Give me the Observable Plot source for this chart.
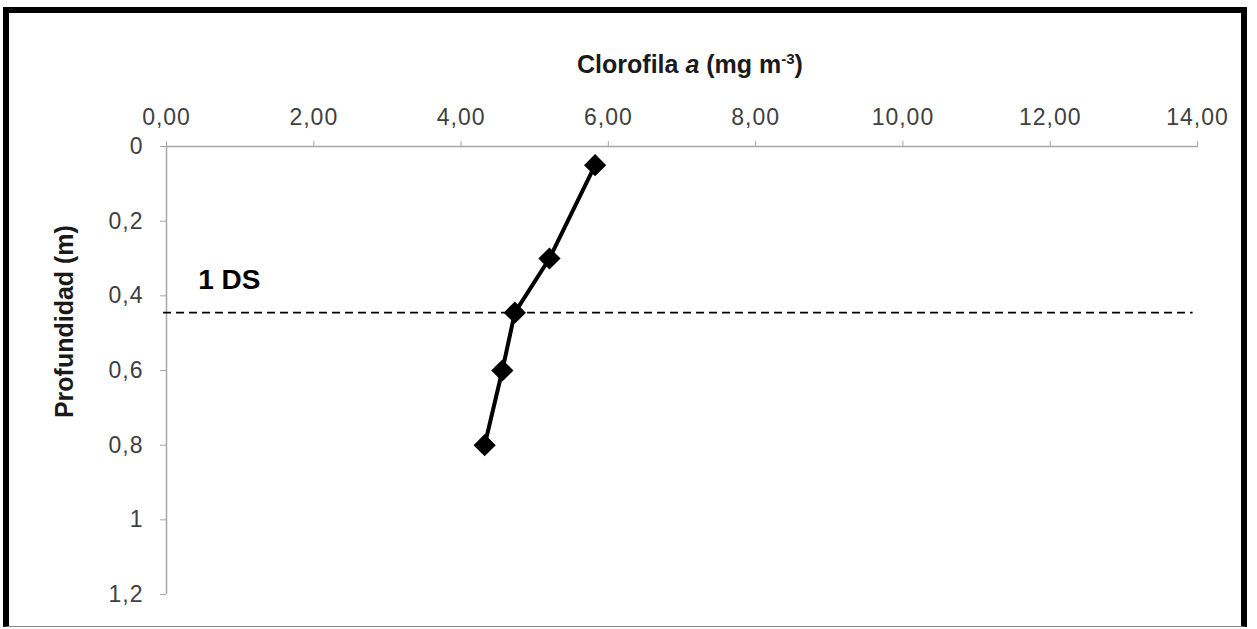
<!DOCTYPE html>
<html>
<head>
<meta charset="utf-8">
<script src="https://cdn.jsdelivr.net/npm/d3@7"></script>
<script src="https://cdn.jsdelivr.net/npm/@observablehq/plot@0.6"></script>
<style>
  html, body { margin: 0; padding: 0; background: #fff; overflow: hidden; }
  #wrap { position: relative; width: 1257px; height: 629px; font-family: "Liberation Sans", Arial, sans-serif; }
  #frame { position: absolute; left: 3px; top: 7px; width: 1244px; height: 620px; border-left: 6px solid #000; border-top: 6px solid #000; border-right: 6px solid #000; border-bottom: 1px solid #888; box-sizing: border-box; pointer-events: none; }
  #xtitle { position: absolute; left: 0; width: 1380px; top: 50px; text-align: center; font-size: 25px; line-height: 29px; font-weight: bold; color: #1a1a1a; }
  #xtitle sup { font-size: 15px; line-height: 0; }
  #chart { position: absolute; left: 0; top: 0; }
</style>
</head>
<body>
<div id="wrap">
  <div id="chart"></div>
  <div id="xtitle">Clorofila <i>a</i> (mg m<sup>-3</sup>)</div>
  <div id="frame"></div>
</div>
<script>
const chlorophyll = [5.82, 5.2, 4.73, 4.56, 4.32];
const depth = [0.05, 0.3, 0.445, 0.6, 0.8];
const xTicks = [0, 2, 4, 6, 8, 10, 12, 14];
const yTicks = [0, 0.2, 0.4, 0.6, 0.8, 1, 1.2];
const dsDepth = 0.445;
const dsLabel = "1 DS";
const yTitle = "Profundidad (m)";

const data = chlorophyll.map((c, i) => ({x: c, y: depth[i]}));

const plot = Plot.plot({
  width: 1257,
  height: 629,
  marginLeft: 166,
  marginRight: 60,
  marginTop: 146,
  marginBottom: 35,
  style: {fontFamily: "'Liberation Sans', Arial, sans-serif", background: "transparent"},
  x: {domain: [0, 14]},
  y: {domain: [0, 1.2], reverse: true},
  marks: [
    Plot.ruleY([0], {stroke: "#a6a6a6", strokeWidth: 1.5}),
    Plot.ruleX([0], {y1: 0, y2: 1.2, stroke: "#a6a6a6", strokeWidth: 1.5}),
    Plot.axisX({anchor: "top", ticks: xTicks, tickSize: 6, tickPadding: 16, fontSize: 23, color: "#a6a6a6",
      tickFormat: d => d.toFixed(2).replace(".", ","), label: null}),
    Plot.axisY({anchor: "left", ticks: yTicks, tickSize: 6, tickPadding: 17, fontSize: 23, color: "#a6a6a6",
      tickFormat: d => String(d).replace(".", ","), label: null}),
    Plot.ruleY([dsDepth], {x1: -0.04, x2: 13.94, stroke: "#000", strokeWidth: 1.6, strokeDasharray: "8,5"}),
    Plot.text([dsLabel], {x: 0.43, y: 0.359, text: d => d, textAnchor: "start", fontSize: 28, fontWeight: "bold", fill: "#000"}),
    Plot.text([yTitle], {x: 0, y: 0.469, text: d => d, dx: -102, rotate: -90, fontSize: 25, fontWeight: "bold", fill: "#1a1a1a"}),
    Plot.line(data, {x: "x", y: "y", stroke: "#000", strokeWidth: 4}),
    Plot.dot(data, {x: "x", y: "y", symbol: "diamond2", r: 10, fill: "#000", stroke: "none"})
  ]
});
plot.querySelectorAll("g[aria-label='x-axis tick label'], g[aria-label='y-axis tick label']").forEach(g => {
  g.setAttribute("fill", "#404040");
  g.style.letterSpacing = "1px";
});
document.getElementById("chart").appendChild(plot);
</script>
</body>
</html>
